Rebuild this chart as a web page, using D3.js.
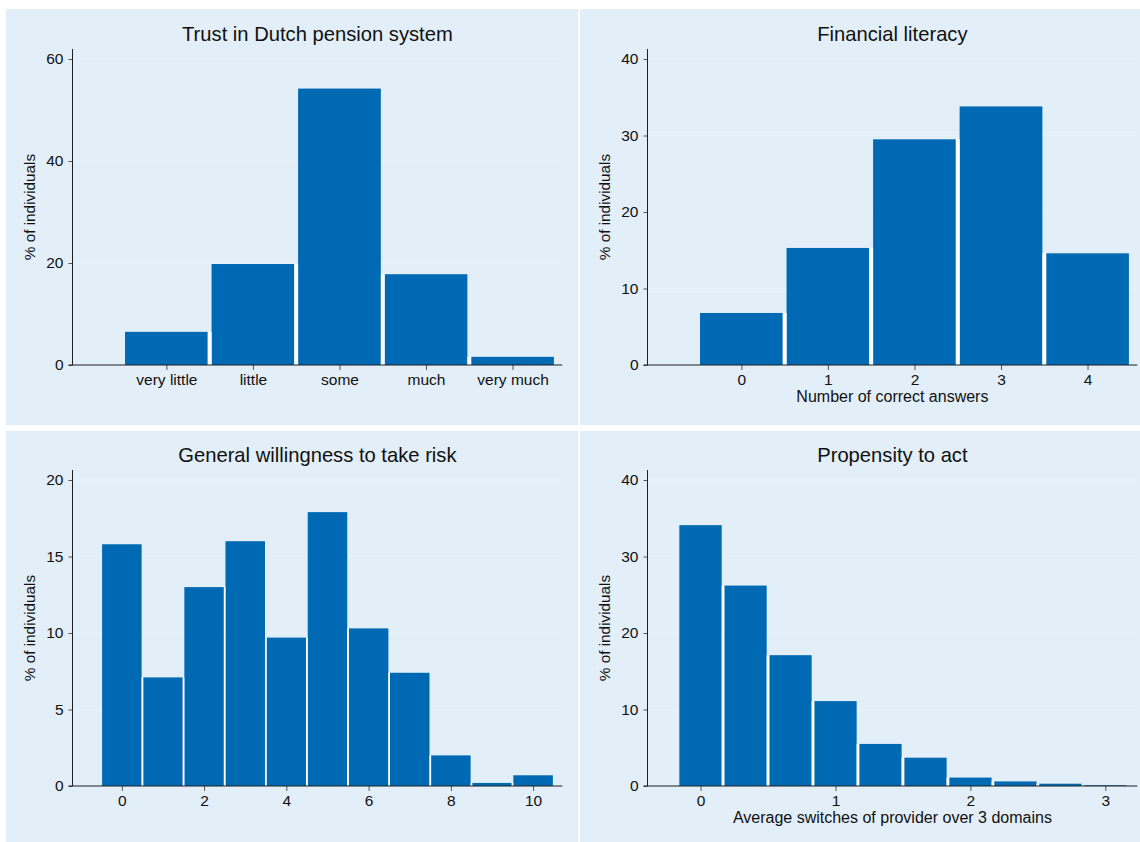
<!DOCTYPE html>
<html><head><meta charset="utf-8">
<script src="https://cdn.jsdelivr.net/npm/d3@7"></script>
<style>
body{margin:0;background:#fff;}
svg{display:block;font-family:"Liberation Sans",Arial,Helvetica,sans-serif;}
</style></head><body>
<svg id="chart" width="1140" height="842"></svg>
<script>
// ---------- data ----------
const trustCategories = ["very little", "little", "some", "much", "very much"];
const trustPositions = [1, 2, 3, 4, 5];
const trustValues = [6.5, 19.8, 54.2, 17.8, 1.6];
const trustYTicks = [0, 20, 40, 60];

const literacyCategories = [0, 1, 2, 3, 4];
const literacyValues = [6.8, 15.3, 29.5, 33.8, 14.6];
const literacyYTicks = [0, 10, 20, 30, 40];

const riskCategories = [0, 1, 2, 3, 4, 5, 6, 7, 8, 9, 10];
const riskValues = [15.8, 7.1, 13.0, 16.0, 9.7, 17.9, 10.3, 7.4, 2.0, 0.2, 0.7];
const riskXTicks = [0, 2, 4, 6, 8, 10];
const riskYTicks = [0, 5, 10, 15, 20];

const actBins = [0, 0.3333, 0.6667, 1, 1.3333, 1.6667, 2, 2.3333, 2.6667, 3];
const actValues = [34.1, 26.2, 17.1, 11.1, 5.5, 3.7, 1.1, 0.6, 0.3, 0.1];
const actXTicks = [0, 1, 2, 3];
const actYTicks = [0, 10, 20, 30, 40];

const titles = ["Trust in Dutch pension system", "Financial literacy",
                "General willingness to take risk", "Propensity to act"];
const yTitle = "% of individuals";
const xTitles = [null, "Number of correct answers", null,
                 "Average switches of provider over 3 domains"];

// ---------- style ----------
const BG = "#e2eef8", GRID = "#eaf3fa", BAR = "#0069b3", AXIS = "#1e1e1e", TICK = "#555";

const panels = [
  {bg:[6, 9, 572.3, 416], ox:72.5, oy:9, xs:trustPositions, vals:trustValues, bin:1, gap:3.8,
   xDomain:[-0.085, 5.575], xTicks:trustPositions, xFmt:(d,i)=>trustCategories[i], yTicks:trustYTicks},
  {bg:[580, 9, 570, 416], ox:647.5, oy:9, xs:literacyCategories, vals:literacyValues, bin:1, gap:3.8,
   xDomain:[-1.085, 4.575], xTicks:literacyCategories, xFmt:d=>d, yTicks:literacyYTicks},
  {bg:[6, 430.7, 572.3, 420], ox:72.5, oy:430, xs:riskCategories, vals:riskValues, bin:1, gap:1.6,
   xDomain:[-1.2, 10.71], xTicks:riskXTicks, xFmt:d=>d, yTicks:riskYTicks},
  {bg:[580, 430.7, 570, 420], ox:647.5, oy:430, xs:actBins, vals:actValues, bin:0.3333, gap:2.6,
   xDomain:[-0.393, 3.237], xTicks:actXTicks, xFmt:d=>d, yTicks:actYTicks}
];

const svg = d3.select("#chart");
const W = 489.8;          // plot width
const Y0 = 356, YT = 50, YA = 40;  // relative to panel top: zero line, top tick, axis top

panels.forEach((p, k) => {
  svg.append("rect").attr("x", p.bg[0]).attr("y", p.bg[1]).attr("width", p.bg[2]).attr("height", p.bg[3])
     .attr("fill", BG);

  const g = svg.append("g");
  const left = p.ox, right = p.ox + W;
  const yMax = p.yTicks[p.yTicks.length - 1];
  const x = d3.scaleLinear().domain(p.xDomain).range([left, right]);
  const y = d3.scaleLinear().domain([0, yMax]).range([p.oy + Y0, p.oy + YT]);

  // grid
  g.selectAll(".grid").data(p.yTicks.filter(d => d > 0)).join("line")
    .attr("x1", left).attr("x2", right)
    .attr("y1", d => y(d)).attr("y2", d => y(d))
    .attr("stroke", GRID).attr("stroke-width", 1);

  // bars
  const bw = x(p.bin) - x(0);
  g.selectAll(".bar").data(p.vals).join("rect")
    .attr("x", (d, i) => x(p.xs[i]) - bw / 2 + p.gap / 2)
    .attr("width", bw - p.gap)
    .attr("y", d => y(d))
    .attr("height", d => y(0) - y(d))
    .attr("fill", BAR);
  // white separators between adjacent bars
  g.selectAll(".sep").data(p.vals.slice(1)).join("rect")
    .attr("x", (d, i) => x(p.xs[i + 1]) - bw / 2 - p.gap / 2)
    .attr("width", p.gap)
    .attr("y", (d, i) => y(Math.min(d, p.vals[i])))
    .attr("height", (d, i) => y(0) - y(Math.min(d, p.vals[i])))
    .attr("fill", "#ffffff");

  // y axis
  const ya = g.append("g").attr("transform", `translate(${left},0)`)
    .call(d3.axisLeft(y).tickValues(p.yTicks).tickSize(4).tickSizeOuter(0).tickPadding(5));
  ya.select(".domain").remove();
  ya.selectAll(".tick line").attr("stroke", TICK);
  ya.selectAll(".tick text").attr("font-size", 15.5).attr("fill", "#111")
    .attr("font-family", "Liberation Sans, Arial, sans-serif");
  g.append("line").attr("x1", left).attr("x2", left).attr("y1", p.oy + Y0).attr("y2", p.oy + YA)
    .attr("stroke", AXIS).attr("stroke-width", 1);

  // x axis
  const xa = g.append("g").attr("transform", `translate(0,${p.oy + Y0})`)
    .call(d3.axisBottom(x).tickValues(p.xTicks).tickFormat(p.xFmt).tickSize(5).tickSizeOuter(0).tickPadding(4));
  xa.select(".domain").remove();
  xa.selectAll(".tick line").attr("stroke", TICK);
  xa.selectAll(".tick text").attr("font-size", 15.5).attr("fill", "#111")
    .attr("font-family", "Liberation Sans, Arial, sans-serif");
  g.append("line").attr("x1", left - 4).attr("x2", right).attr("y1", p.oy + Y0).attr("y2", p.oy + Y0)
    .attr("stroke", AXIS).attr("stroke-width", 1);

  // titles
  g.append("text").attr("x", (left + right) / 2).attr("y", p.oy + 32)
    .attr("text-anchor", "middle").attr("font-size", 20.2).attr("fill", "#111").text(titles[k]);
  g.append("text")
    .attr("transform", `translate(${p.ox - 37.5},${p.oy + (Y0 + YA) / 2}) rotate(-90)`)
    .attr("text-anchor", "middle").attr("font-size", 15.3).attr("fill", "#111").text(yTitle);
  if (xTitles[k]) {
    g.append("text").attr("x", (left + right) / 2).attr("y", p.oy + 393)
      .attr("text-anchor", "middle").attr("font-size", 16).attr("fill", "#111").text(xTitles[k]);
  }
});
</script>
</body></html>
